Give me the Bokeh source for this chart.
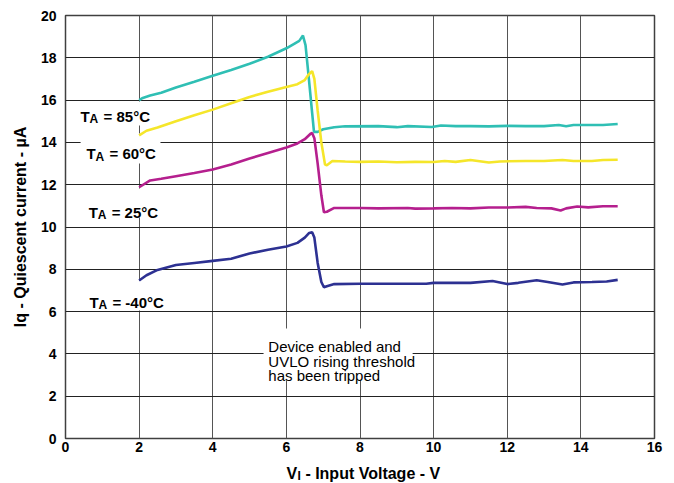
from bokeh.plotting import figure
from bokeh.layouts import column
from bokeh.models import Range1d, FixedTicker, Label, BoxAnnotation
from bokeh.embed import file_html
from bokeh.resources import INLINE

# ---- data ----
x_ticks = [0, 2, 4, 6, 8, 10, 12, 14, 16]
y_ticks = [0, 2, 4, 6, 8, 10, 12, 14, 16, 18, 20]

x_85 = [2.0, 2.1, 2.3, 2.6, 3.0, 3.5, 4.0, 4.5, 5.0, 5.5, 6.0, 6.2, 6.35, 6.45, 6.52, 6.6, 6.7, 6.75,
        6.85, 7.0, 7.3, 7.6, 8.5, 9.0, 9.3, 9.95, 10.2, 10.6, 11.0, 11.5, 12.0, 12.5, 13.0, 13.4,
        13.6, 13.8, 14.2, 14.6, 15.0]
y_85 = [16.0, 16.1, 16.22, 16.35, 16.6, 16.87, 17.15, 17.42, 17.72, 18.05, 18.45, 18.65, 18.8, 19.05,
        18.6, 17.2, 15.4, 14.5, 14.5, 14.62, 14.72, 14.76, 14.77, 14.72, 14.77, 14.73, 14.8, 14.77,
        14.77, 14.76, 14.78, 14.77, 14.77, 14.82, 14.76, 14.82, 14.82, 14.82, 14.87]

x_60 = [2.0, 2.2, 2.5, 3.0, 3.5, 4.0, 4.5, 5.0, 5.5, 6.0, 6.3, 6.5, 6.6, 6.7, 6.76, 6.85, 6.95, 7.05,
        7.1, 7.25, 7.6, 8.0, 8.5, 9.0, 9.5, 10.0, 10.3, 10.6, 11.0, 11.3, 11.5, 11.8, 12.5, 13.0, 13.5,
        13.8, 14.3, 14.6, 15.0]
y_60 = [14.33, 14.55, 14.7, 15.0, 15.28, 15.55, 15.85, 16.15, 16.4, 16.62, 16.75, 16.95, 17.2, 17.37,
        17.0, 15.5, 14.0, 12.95, 12.92, 13.12, 13.1, 13.08, 13.1, 13.06, 13.08, 13.07, 13.12, 13.08,
        13.17, 13.1, 13.05, 13.1, 13.12, 13.12, 13.17, 13.12, 13.12, 13.17, 13.18]

x_25 = [2.0, 2.3, 2.6, 3.0, 3.5, 4.0, 4.5, 5.0, 5.5, 6.0, 6.3, 6.5, 6.65, 6.7, 6.76, 6.85, 6.95, 7.02,
        7.1, 7.3, 8.0, 8.5, 9.3, 9.5, 10.0, 10.5, 11.0, 11.5, 12.0, 12.5, 12.8, 13.2, 13.45, 13.6, 13.9,
        14.2, 14.6, 15.0]
y_25 = [11.88, 12.2, 12.28, 12.4, 12.55, 12.72, 12.95, 13.24, 13.5, 13.76, 13.95, 14.15, 14.4, 14.45,
        14.2, 13.0, 11.5, 10.7, 10.72, 10.9, 10.9, 10.88, 10.9, 10.87, 10.88, 10.9, 10.88, 10.92, 10.92,
        10.95, 10.9, 10.88, 10.78, 10.88, 10.97, 10.93, 10.98, 10.98]

x_m40 = [2.0, 2.2, 2.5, 3.0, 3.5, 4.0, 4.5, 5.0, 5.5, 6.0, 6.3, 6.5, 6.62, 6.7, 6.76, 6.85, 6.95, 7.02,
         7.1, 7.3, 8.0, 9.0, 9.8, 10.0, 10.5, 11.0, 11.6, 11.8, 12.0, 12.3, 12.8, 13.1, 13.5, 13.8,
         14.3, 14.7, 15.0]
y_m40 = [7.47, 7.72, 7.97, 8.2, 8.3, 8.4, 8.5, 8.75, 8.92, 9.08, 9.25, 9.5, 9.72, 9.75, 9.5, 8.3, 7.4,
         7.15, 7.2, 7.3, 7.32, 7.32, 7.32, 7.36, 7.36, 7.36, 7.45, 7.38, 7.3, 7.36, 7.48, 7.4, 7.28, 7.38,
         7.4, 7.42, 7.5]

series = [
    (x_85, y_85, "#2FBFB4", "85°C"),
    (x_60, y_60, "#F5E62A", "60°C"),
    (x_25, y_25, "#B51F8E", "25°C"),
    (x_m40, y_m40, "#2D3192", "-40°C"),
]

FONT = "Liberation Sans"

p = figure(width=666, height=462, output_backend="svg", toolbar_location=None,
           x_range=Range1d(0, 16), y_range=Range1d(0, 20),
           min_border_left=65, min_border_right=12, min_border_top=15, min_border_bottom=24,
           background_fill_color="white", border_fill_color="white")

p.xaxis.ticker = FixedTicker(ticks=x_ticks)
p.yaxis.ticker = FixedTicker(ticks=y_ticks)
for ax in (p.xaxis, p.yaxis):
    ax.major_tick_in = 0
    ax.major_tick_out = 0
    ax.minor_tick_in = 0
    ax.minor_tick_out = 0
    ax.axis_line_color = None
    ax.major_label_text_font = FONT
    ax.major_label_text_font_style = "bold"
    ax.major_label_text_font_size = "14px"
    ax.major_label_text_color = "black"
p.xaxis.major_label_standoff = 3
p.yaxis.major_label_standoff = 9

p.yaxis.axis_label = "Iq - Quiescent current - µA"
p.yaxis.axis_label_text_font = FONT
p.yaxis.axis_label_text_font_style = "bold"
p.yaxis.axis_label_text_font_size = "16px"
p.yaxis.axis_label_standoff = 9
p.yaxis.axis_label_text_color = "black"

p.xgrid.grid_line_color = "#555555"
p.ygrid.grid_line_color = "#222222"
p.xgrid.grid_line_width = 1
p.ygrid.grid_line_width = 1
p.xgrid.level = "image"
p.ygrid.level = "image"
p.outline_line_color = "#404040"
p.outline_line_width = 1.5

# white boxes behind labels (cover the grid)
boxes = [
    (0.25, 2.6, 15.93, 14.8),
    (0.41, 2.58, 14.42, 13.0),
    (0.45, 2.6, 11.82, 10.45),
    (0.45, 2.75, 7.45, 6.05),
    (5.38, 9.43, 5.2, 2.74),
]
for l, r, t, b in boxes:
    p.add_layout(BoxAnnotation(left=l, right=r, top=t, bottom=b, fill_color="white", fill_alpha=1.0,
                               line_alpha=0, level="underlay"))

for xs, ys, c, _ in series:
    p.line(xs, ys, line_color=c, line_width=2.6)

# temperature labels
label_pos = [(0.41, 15.24), (0.57, 13.46), (0.63, 10.70), (0.65, 6.45)]
for (lx, ly), (_, _, _, t) in zip(label_pos, series):
    p.add_layout(Label(x=lx, y=ly, text="T", text_font=FONT, text_font_style="bold",
                       text_font_size="15px", text_baseline="alphabetic", text_color="black"))
    p.add_layout(Label(x=lx, y=ly, x_offset=9, y_offset=-3, text="A", text_font=FONT,
                       text_font_style="bold", text_font_size="12px", text_baseline="alphabetic",
                       text_color="black"))
    p.add_layout(Label(x=lx, y=ly, x_offset=23, text="= " + t, text_font=FONT, text_font_style="bold",
                       text_font_size="15px", text_baseline="alphabetic", text_color="black"))

# annotation text
note_lines = ["Device enabled and", "UVLO rising threshold", "has been tripped"]
note_y = [4.35, 3.65, 2.97]
for s, ny in zip(note_lines, note_y):
    p.add_layout(Label(x=5.51, y=ny, text=s, text_font=FONT, text_font_size="15px",
                       text_baseline="alphabetic", text_color="black"))

# x axis title with subscript, in a thin strip below the chart sharing the x scale
t = figure(width=666, height=21, output_backend="svg", toolbar_location=None,
           x_range=p.x_range, y_range=Range1d(0, 21), x_axis_type=None, y_axis_type=None,
           min_border_left=65, min_border_right=12, min_border_top=0, min_border_bottom=0,
           outline_line_color=None, background_fill_color="white", border_fill_color="white")
t.add_layout(Label(x=6.0, y=10.5, text="V", text_font=FONT, text_font_style="bold",
                   text_font_size="16px", text_baseline="alphabetic", text_color="black"))
t.add_layout(Label(x=6.0, y=10.5, x_offset=11, y_offset=-3, text="I", text_font=FONT,
                   text_font_style="bold", text_font_size="12px", text_baseline="alphabetic",
                   text_color="black"))
t.add_layout(Label(x=6.0, y=10.5, x_offset=19, text="- Input Voltage - V", text_font=FONT,
                   text_font_style="bold", text_font_size="16px", text_baseline="alphabetic",
                   text_color="black"))

layout = column(p, t, spacing=0)
open("out.html", "w").write(file_html(layout, INLINE))
